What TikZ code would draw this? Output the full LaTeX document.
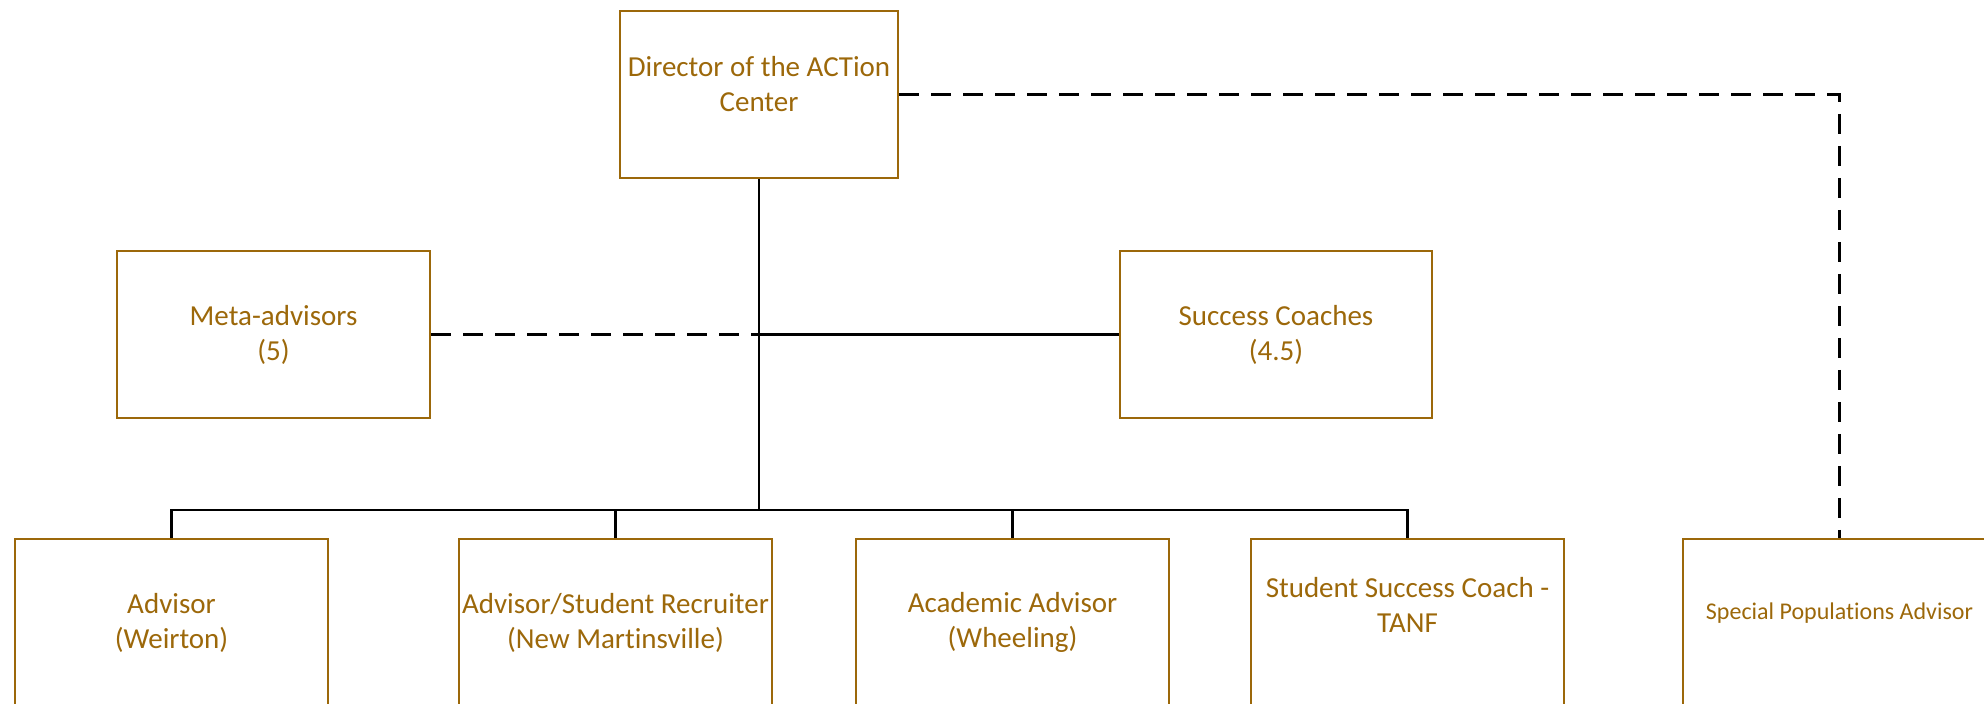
\documentclass[tikz,border=0pt]{standalone}
\usepackage{fontspec}
\setmainfont{Carlito}[Ligatures=NoCommon]
\usetikzlibrary{positioning}
\definecolor{boxgold}{RGB}{156,104,10}

\begin{document}
\begin{tikzpicture}[x=1pt,y=1pt,
    orgbox/.style={draw=boxgold,line width=2pt,text=boxgold,minimum width=313pt,
      minimum height=167pt,inner sep=0pt,align=center,font=\fontsize{29}{35}\selectfont},
    link/.style={line width=2.5pt},
    dashlink/.style={line width=2.5pt,dash pattern=on 20pt off 12pt}]
\useasboundingbox (0,0) rectangle (1984,704);
% top
\node[orgbox,minimum width=278pt] (dir) at (759,609.5) {Director of the ACTion\\Center\\[-13pt]~};
% middle row
\node[orgbox] (meta) at (273.5,369.5) {Meta-advisors\\(5)};
\node[orgbox,minimum width=312pt] (coach) at (1276,369.5) {Success Coaches\\(4.5)};
% bottom row
\node[orgbox] (adv) at (171.5,81.5) {Advisor\\(Weirton)};
\node[orgbox] (rec) at (615.5,81.5) {Advisor/Student Recruiter\\(New Martinsville)};
\node[orgbox] (acad) at (1012.5,81.5) {Academic Advisor\\(Wheeling)};
\node[orgbox] (tanf) at (1407.5,81.5) {Student Success Coach -\\TANF\\~};
\node[orgbox,font=\fontsize{24}{29}\selectfont] (spec) at (1839.5,81.5) {Special Populations Advisor\\[-7pt]~};
\coordinate (bus) at (759,194);

\draw[link] (dir.south) -- (bus);
\draw[link] (adv.north) |- (bus) -| (tanf.north);
\draw[link] (rec.north) -- (rec.north |- bus);
\draw[link] (acad.north) -- (acad.north |- bus);
\draw[link] (dir.south |- coach.west) -- (coach.west);
\draw[dashlink] (meta.east) -- (dir.south |- meta.east);
\draw[dashlink] (dir.east) -| (spec.north);
\end{tikzpicture}
\end{document}
